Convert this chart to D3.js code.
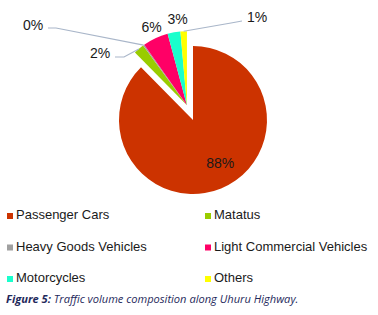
<!DOCTYPE html>
<html>
<head>
<meta charset="utf-8">
<script src="https://cdn.jsdelivr.net/npm/d3@7"></script>
<style>
  body { margin: 0; background: #fff; }
  svg { display: block; }
</style>
</head>
<body>
<div id="chart"></div>
<script>
const categories = ["Passenger Cars", "Matatus", "Heavy Goods Vehicles", "Light Commercial Vehicles", "Motorcycles", "Others"];
const shares = [87.6, 2.3, 0.3, 5.6, 2.8, 1.4];
const colors = ["#cc3300", "#99cc00", "#a0a0a0", "#ff0066", "#19ffcc", "#ffff00"];

const width = 378;
const height = 315;
const radius = 74;
const cx = 193, cy = 120;
const explode = 16;

// label placement per slice: polar radius around the slice apex, or a manual spot with a leader line
const labelLayout = [
  { r: 51, turn: -10 },
  { x: 100, y: 53, leader: [[115, 57], [124, 57]] },
  { x: 33, y: 25, leader: [[48, 28], [56, 28]] },
  { r: 86, turn: 1 },
  { r: 87, turn: 4 },
  { x: 257, y: 17, leader: [[242, 21], [231, 23]] }
];

const svg = d3.select("#chart").append("svg")
  .attr("width", width)
  .attr("height", height);

const pie = d3.pie().sort(null).value(d => d)(shares);
const arc = d3.arc().innerRadius(0).outerRadius(radius);

// small slices are pulled out together along their shared bisector
const restStart = pie[1].startAngle, restEnd = pie[pie.length - 1].endAngle;
const restMid = (restStart + restEnd) / 2;
const offX = explode * Math.sin(restMid), offY = -explode * Math.cos(restMid);

const g = svg.append("g");

pie.forEach((d, i) => {
  const ox = i === 0 ? cx : cx + offX;
  const oy = i === 0 ? cy : cy + offY;
  g.append("path")
    .attr("transform", `translate(${ox},${oy})`)
    .attr("d", arc(d))
    .attr("fill", colors[i]);

  const mid = (d.startAngle + d.endAngle) / 2;
  const lay = labelLayout[i];
  let lx, ly;
  if (lay.leader) {
    lx = lay.x; ly = lay.y;
    const edge = [ox + radius * Math.sin(mid), oy - radius * Math.cos(mid)];
    const pts = lay.leader.concat([edge]);
    g.append("path")
      .attr("d", d3.line()(pts))
      .attr("fill", "none")
      .attr("stroke", "#a9b6c9")
      .attr("stroke-width", 1.2);
  } else {
    const a = mid + (lay.turn || 0) * Math.PI / 180;
    lx = ox + lay.r * Math.sin(a);
    ly = oy - lay.r * Math.cos(a);
  }
  g.append("text")
    .attr("x", lx)
    .attr("y", ly)
    .attr("text-anchor", "middle")
    .attr("dominant-baseline", "central")
    .attr("font-family", "Liberation Sans, Arial, sans-serif")
    .attr("font-size", "14px")
    .attr("fill", "#1a1a1a")
    .text(Math.round(d.data) + "%");
});

// legend
const legend = svg.append("g");
categories.forEach((c, i) => {
  const col = i % 2, row = Math.floor(i / 2);
  const x = col === 0 ? 7 : 205;
  const y = 219 + row * 31.5;
  legend.append("rect")
    .attr("x", x).attr("y", y - 6)
    .attr("width", 6).attr("height", 6)
    .attr("fill", colors[i]);
  legend.append("text")
    .attr("x", x + 9).attr("y", y)
    .attr("font-family", "Liberation Sans, Arial, sans-serif")
    .attr("font-size", "13px")
    .attr("fill", "#1a1a1a")
    .text(c);
});

// caption
const cap = svg.append("text")
  .attr("x", 6).attr("y", 303)
  .attr("font-family", "Open Sans, sans-serif")
  .attr("font-size", "11.1px")
  .attr("font-style", "italic")
  .attr("fill", "#1f2a5c");
cap.append("tspan").attr("font-weight", "bold").text("Figure 5: ");
cap.append("tspan").text("Traffic volume composition along Uhuru Highway.");
</script>
</body>
</html>
